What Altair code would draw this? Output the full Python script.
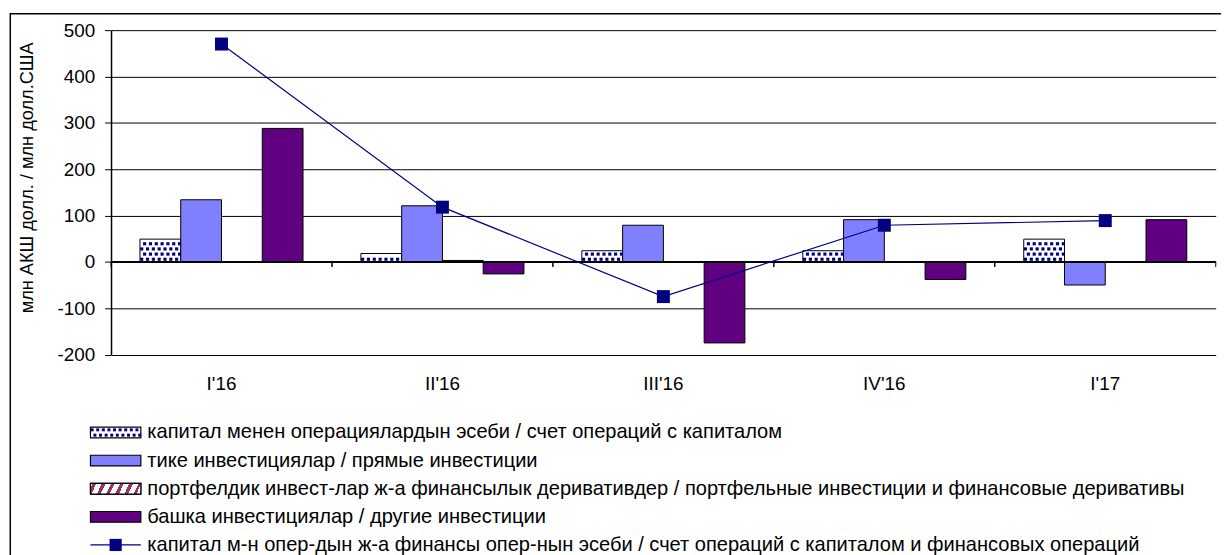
import altair as alt
import pandas as pd

# ---------------- data ----------------
categories = ["I'16", "II'16", "III'16", "IV'16", "I'17"]
capital = [49, 18, 24, 24, 49]
direct = [134, 121, 79, 91, -50]
portfolio = [0, 3, 0, 0, 0]
other = [288, -26, -175, -38, 91]
total = [470, 118, -75, 79, 89]

series_keys = ["capital", "direct", "portfolio", "other"]
series_labels = [
    "капитал менен операциялардын эсеби / счет операций с капиталом",
    "тике инвестициялар / прямые инвестиции",
    "портфелдик инвест-лар ж-а финансылык деривативдер / портфельные инвестиции и финансовые деривативы",
    "башка инвестициялар / другие инвестиции",
    "капитал м-н опер-дын ж-а финансы опер-нын эсеби / счет операций с капиталом и финансовых операций",
]
bar_fills = ["#FFFFFF", "#8080FF", "#FFFFFF", "#600080"]
y_ticks = [-200, -100, 0, 100, 200, 300, 400, 500]
y_domain = [-200, 500]
y_title = "млн АКШ долл. / млн долл.США"

# ---------------- layout / style ----------------
FONT = "Liberation Sans"
W, H = 1112, 326.5
PAD = {"left": 103.7, "top": 20.5, "right": 5.3, "bottom": 200}
GROUP = 0.738                       # share of a category taken by the bar group
P_OUT = (4 / GROUP - 4) / 2         # xOffset outer padding
G0 = (1 - GROUP) / 2
BW = GROUP / 4
NAVY = "#000080"
HATCH = "#993366"
PX_PER_UNIT = H / (y_domain[1] - y_domain[0])
ROW_STEP = 5.2 / PX_PER_UNIT        # dot-row spacing in data units

bars_df = pd.DataFrame({
    "cat": categories * 4,
    "series": [k for k in series_keys for _ in categories],
    "value": capital + direct + portfolio + other,
})
line_df = pd.DataFrame({"cat": categories, "total": total})
cap_df = pd.DataFrame({"idx": list(range(len(categories))), "v": capital})
legend_df = pd.DataFrame({"row": list(range(5)), "label": series_labels,
                          "key": series_keys + ["total"]})

x_band = alt.Scale(domain=categories, paddingInner=0, paddingOuter=0)
y_scale = alt.Scale(domain=y_domain, nice=False, zero=False)
leg_x = alt.Scale(domain=[0, 1], range=[91 - 111.7, 141.7 - 111.7])
leg_y = alt.Scale(domain=[0, 4], range=[433.5 - 28.5, 546.7 - 28.5])

# ---------------- plot layers ----------------
bars = alt.Chart(bars_df).mark_bar(stroke="black", strokeWidth=1).encode(
    x=alt.X("cat:N", sort=categories, scale=x_band,
            axis=alt.Axis(title=None, domain=False, ticks=False, tickSize=0,
                          labelPadding=20, labelFontSize=19, labelColor="black",
                          labelFont=FONT, labelAngle=0, grid=False)),
    xOffset=alt.XOffset("series:N", sort=series_keys,
                        scale=alt.Scale(domain=series_keys, paddingInner=0, paddingOuter=P_OUT)),
    y=alt.Y("value:Q", scale=y_scale,
            axis=alt.Axis(title=y_title, values=y_ticks, grid=True, gridColor="black",
                          gridWidth=1, domainColor="black", domainWidth=1.5,
                          tickColor="black", tickSize=6.5, tickWidth=1,
                          labelExpr="toString(datum.value)",
                          labelFontSize=19, labelColor="black", labelFont=FONT,
                          labelPadding=10, titleFontSize=18.3, titleFontWeight="normal",
                          titleColor="black", titleFont=FONT, titleAngle=270,
                          titleX=-78.7, titleY=148.2, titleAlign="center",
                          titleBaseline="alphabetic")),
    fill=alt.Fill("series:N", scale=alt.Scale(domain=series_keys, range=bar_fills), legend=None),
)

dots = alt.Chart(cap_df).transform_calculate(
    ys=f"sequence({ROW_STEP * 0.5}, datum.v - {ROW_STEP * 0.3}, {ROW_STEP})"
).transform_flatten(["ys"]).transform_calculate(
    par=f"floor(datum.ys / {ROW_STEP}) % 2",
    cs="sequence(0, 7)",
).transform_flatten(["cs"]).transform_calculate(
    xq=f"datum.idx + {G0} + {BW} * ((datum.cs + 0.3 + 0.5 * datum.par) / 7)"
).mark_square(size=10, color=NAVY, opacity=1).encode(
    x=alt.X("xq:Q", scale=alt.Scale(domain=[0, 5], nice=False, zero=False), axis=None),
    y=alt.Y("ys:Q", scale=y_scale, axis=None),
)

zero = alt.Chart(line_df).mark_rule(color="black", strokeWidth=1.5).encode(
    y=alt.Y(datum=0, scale=y_scale, axis=None),
)

ticks_a = alt.Chart(line_df).mark_rule(color="black", strokeWidth=1).encode(
    x=alt.X("cat:N", sort=categories, scale=x_band, bandPosition=0, axis=None),
    y=alt.Y(datum=0, scale=y_scale, axis=None),
    y2=alt.Y2(datum=-11),
)
ticks_b = alt.Chart(line_df).mark_rule(color="black", strokeWidth=1).encode(
    x=alt.X("cat:N", sort=categories, scale=x_band, bandPosition=1, axis=None),
    y=alt.Y(datum=0, scale=y_scale, axis=None),
    y2=alt.Y2(datum=-11),
)

line = alt.Chart(line_df).mark_line(color=NAVY, strokeWidth=1.2).encode(
    x=alt.X("cat:N", sort=categories, scale=x_band, axis=None),
    y=alt.Y("total:Q", scale=y_scale, axis=None),
)
pts = alt.Chart(line_df).mark_point(shape="square", size=170, filled=True,
                                    color=NAVY, opacity=1).encode(
    x=alt.X("cat:N", sort=categories, scale=x_band, axis=None),
    y=alt.Y("total:Q", scale=y_scale, axis=None),
)

# ---------------- legend layers ----------------
leg_base = alt.Chart(legend_df)
leg_rect = leg_base.transform_filter("datum.row < 4").transform_calculate(
    x0="0", x1="1", yt="datum.row - 0.19", yb="datum.row + 0.19"
).mark_rect(stroke="black", strokeWidth=1.2).encode(
    x=alt.X("x0:Q", scale=leg_x, axis=None), x2="x1:Q",
    y=alt.Y("yt:Q", scale=leg_y, axis=None), y2="yb:Q",
    fill=alt.Fill("key:N", scale=alt.Scale(domain=series_keys, range=bar_fills), legend=None),
)

P = 0.18
stops = [alt.GradientStop(color="white", offset=0)]
a = 0.25 * P
while a < 1:
    b = min(a + 0.4 * P, 1)
    stops += [alt.GradientStop(color="white", offset=a), alt.GradientStop(color=HATCH, offset=a),
              alt.GradientStop(color=HATCH, offset=b), alt.GradientStop(color="white", offset=b)]
    a += P
stops.append(alt.GradientStop(color="white", offset=1))
hatch_grad = alt.LinearGradient(gradient="linear", stops=stops, x1=0, y1=0, x2=1, y2=0.1)

leg_hatch = leg_base.transform_filter("datum.row == 2").transform_calculate(
    x0="0", x1="1", yt="datum.row - 0.19", yb="datum.row + 0.19"
).mark_rect(stroke="black", strokeWidth=1.2, fill=hatch_grad).encode(
    x=alt.X("x0:Q", scale=leg_x, axis=None), x2="x1:Q",
    y=alt.Y("yt:Q", scale=leg_y, axis=None), y2="yb:Q",
)

leg_dots = leg_base.transform_filter("datum.row == 0").transform_calculate(
    rr="sequence(0, 2)"
).transform_flatten(["rr"]).transform_calculate(
    cs="sequence(0, 9)"
).transform_flatten(["cs"]).transform_calculate(
    xq="(datum.cs + 0.3 + 0.5 * datum.rr) / 9",
    yq="datum.row + (datum.rr - 0.5) * 0.19",
).mark_square(size=9, color=NAVY, opacity=1).encode(
    x=alt.X("xq:Q", scale=leg_x, axis=None),
    y=alt.Y("yq:Q", scale=leg_y, axis=None),
)

leg_line = leg_base.transform_filter("datum.row == 4").transform_calculate(
    x0="0", x1="1"
).mark_rule(color=NAVY, strokeWidth=1.2).encode(
    x=alt.X("x0:Q", scale=leg_x, axis=None), x2="x1:Q",
    y=alt.Y("row:Q", scale=leg_y, axis=None),
)
leg_pt = leg_base.transform_filter("datum.row == 4").transform_calculate(
    xm="0.5"
).mark_point(shape="square", size=150, filled=True, color=NAVY, opacity=1).encode(
    x=alt.X("xm:Q", scale=leg_x, axis=None),
    y=alt.Y("row:Q", scale=leg_y, axis=None),
)

leg_text = leg_base.transform_calculate(x1="1").mark_text(
    align="left", baseline="middle", dx=6.5, fontSize=20.2, font=FONT, color="black"
).encode(
    x=alt.X("x1:Q", scale=leg_x, axis=None),
    y=alt.Y("row:Q", scale=leg_y, axis=None),
    text="label:N",
)

# ---------------- outer frame ----------------
frame = alt.Chart(pd.DataFrame({"f": [0]})).mark_rect(
    fillOpacity=0, fill="white", stroke="black", strokeWidth=1.5
).encode(
    x=alt.value(2.3 - PAD["left"]), y=alt.value(4 - PAD["top"]),
    x2=alt.value(W + 100), y2=alt.value(H + 400),
)

chart = alt.layer(
    bars, dots, zero, ticks_a, ticks_b, line, pts,
    leg_rect, leg_hatch, leg_dots, leg_line, leg_pt, leg_text, frame,
).resolve_scale(
    x="independent", y="independent", fill="independent"
).properties(
    width=W, height=H, padding=PAD,
    autosize=alt.AutoSizeParams(type="none"),
).configure(font=FONT).configure_view(stroke=None)

chart.save("out.html", embed_options={"renderer": "svg", "actions": False})
